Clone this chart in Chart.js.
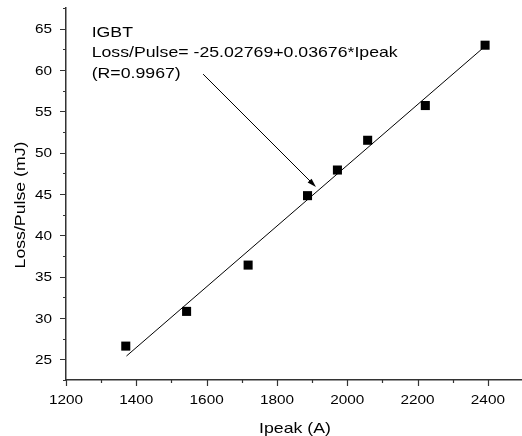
<!DOCTYPE html>
<html>
<head>
<meta charset="utf-8">
<script src="https://cdn.jsdelivr.net/npm/chart.js@4/dist/chart.umd.min.js"></script>
<style>
  html, body { margin: 0; padding: 0; background: #fff; }
  #wrap { width: 522px; height: 436px; }
</style>
</head>
<body>
<div id="wrap"><canvas id="chart1"></canvas></div>
<script>
// measured points
const ipeak = [1370, 1543, 1718, 1887, 1972, 2058, 2222, 2392];
const lossPulse = [26.6, 30.8, 36.4, 44.8, 47.9, 51.5, 55.7, 63.0];

// fitted line, end points
const fitX = [1372, 2390];
const fitY = [25.4, 62.8];

// tick values
const xTicks = [1200, 1300, 1400, 1500, 1600, 1700, 1800, 1900, 2000, 2100, 2200, 2300, 2400];
const xLabels = [1200, 1400, 1600, 1800, 2000, 2200, 2400];
const yTicks = [22.5, 25, 27.5, 30, 32.5, 35, 37.5, 40, 42.5, 45, 47.5, 50, 52.5, 55, 57.5, 60, 62.5, 65, 67.5];
const yLabels = [25, 30, 35, 40, 45, 50, 55, 60, 65];

const xTitle = "Ipeak (A)";
const yTitle = "Loss/Pulse (mJ)";

// annotation text (anchored in data units)
const noteLines = ["IGBT", "Loss/Pulse= -25.02769+0.03676*Ipeak", "(R=0.9967)"];
const noteAt = [1273, 64.0];
const arrowFrom = [1590, 59.5];
const arrowTo = [1911, 45.85];

const FONT = "'Liberation Sans', Arial, sans-serif";
const STRETCH = 1.18; // the original text is a bit wide

const pts = ipeak.map((x, i) => ({ x: x, y: lossPulse[i] }));
const fit = fitX.map((x, i) => ({ x: x, y: fitY[i] }));

function wideText(ctx, txt, x, y, align) {
  ctx.save();
  ctx.translate(x, y);
  ctx.scale(STRETCH, 1);
  ctx.textAlign = align;
  ctx.fillText(txt, 0, 0);
  ctx.restore();
}

const extras = {
  id: "extras",
  afterDraw(chart) {
    const ctx = chart.ctx;
    const xs = chart.scales.x, ys = chart.scales.y;
    ctx.save();
    // tick marks
    ctx.strokeStyle = "#333";
    ctx.lineWidth = 1.2;
    ctx.beginPath();
    xTicks.forEach(v => {
      const px = Math.round(xs.getPixelForValue(v)) + 0.5;
      const len = xLabels.includes(v) ? 6 : 3;
      ctx.moveTo(px, ys.bottom);
      ctx.lineTo(px, ys.bottom + len);
    });
    yTicks.forEach(v => {
      const py = Math.round(ys.getPixelForValue(v)) + 0.5;
      const len = yLabels.includes(v) ? 6 : 3;
      ctx.moveTo(xs.left, py);
      ctx.lineTo(xs.left - len, py);
    });
    ctx.stroke();

    // tick labels
    ctx.fillStyle = "#000";
    ctx.textBaseline = "alphabetic";
    ctx.font = "13px " + FONT;
    xLabels.forEach(v => wideText(ctx, String(v), xs.getPixelForValue(v), ys.bottom + 24, "center"));
    yLabels.forEach(v => wideText(ctx, String(v), xs.left - 14, ys.getPixelForValue(v) + 4.7, "right"));

    // axis titles
    ctx.font = "15px " + FONT;
    wideText(ctx, xTitle, (xs.left + xs.right) / 2 + 1, ys.bottom + 53, "center");
    ctx.save();
    ctx.translate(25, (ys.top + ys.bottom) / 2 + 11);
    ctx.rotate(-Math.PI / 2);
    wideText(ctx, yTitle, 0, 0, "center");
    ctx.restore();

    // note text
    const tx = xs.getPixelForValue(noteAt[0]);
    const ty = ys.getPixelForValue(noteAt[1]);
    noteLines.forEach((t, i) => wideText(ctx, t, tx, ty + i * 20.5, "left"));

    // arrow
    const x1 = xs.getPixelForValue(arrowFrom[0]), y1 = ys.getPixelForValue(arrowFrom[1]);
    const x2 = xs.getPixelForValue(arrowTo[0]), y2 = ys.getPixelForValue(arrowTo[1]);
    const ang = Math.atan2(y2 - y1, x2 - x1);
    ctx.strokeStyle = "#000";
    ctx.lineWidth = 1;
    ctx.beginPath();
    ctx.moveTo(x1, y1);
    ctx.lineTo(x2 - 6 * Math.cos(ang), y2 - 6 * Math.sin(ang));
    ctx.stroke();
    ctx.beginPath();
    ctx.moveTo(x2, y2);
    ctx.lineTo(x2 - 9 * Math.cos(ang) + 2.8 * Math.sin(ang), y2 - 9 * Math.sin(ang) - 2.8 * Math.cos(ang));
    ctx.lineTo(x2 - 9 * Math.cos(ang) - 2.8 * Math.sin(ang), y2 - 9 * Math.sin(ang) + 2.8 * Math.cos(ang));
    ctx.closePath();
    ctx.fill();
    ctx.restore();
  }
};

new Chart(document.getElementById("chart1").getContext("2d"), {
  type: "scatter",
  data: {
    datasets: [
      {
        label: "fit",
        type: "line",
        data: fit,
        borderColor: "#000",
        borderWidth: 1,
        pointRadius: 0,
        fill: false,
        tension: 0
      },
      {
        label: "IGBT",
        data: pts,
        pointStyle: "rect",
        pointRadius: 6.4,
        pointHoverRadius: 6.4,
        backgroundColor: "#000",
        borderColor: "#000",
        borderWidth: 0
      }
    ]
  },
  options: {
    responsive: true,
    maintainAspectRatio: false,
    animation: false,
    events: [],
    layout: { autoPadding: false, padding: { top: 8, right: 0, left: 0, bottom: 0 } },
    plugins: { legend: { display: false }, tooltip: { enabled: false } },
    scales: {
      x: {
        type: "linear",
        min: 1200,
        max: 2497,
        afterBuildTicks: s => { s.ticks = xTicks.map(v => ({ value: v })); },
        afterFit: s => { s.height = 56; },
        grid: { display: false, drawTicks: false },
        border: { display: true, color: "#333", width: 1.5 },
        ticks: { display: false },
        title: { display: false }
      },
      y: {
        min: 22.5,
        max: 67.5,
        afterBuildTicks: s => { s.ticks = yTicks.map(v => ({ value: v })); },
        afterFit: s => { s.width = 66; },
        grid: { display: false, drawTicks: false },
        border: { display: true, color: "#333", width: 1.5 },
        ticks: { display: false },
        title: { display: false }
      }
    }
  },
  plugins: [extras]
});
</script>
</body>
</html>
